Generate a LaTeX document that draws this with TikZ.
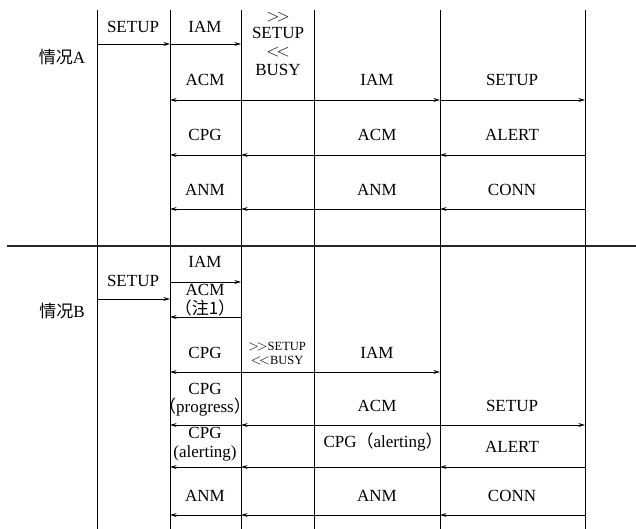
\documentclass[tikz,border=0pt]{standalone}
\usepackage{fontspec}
\setmainfont{Liberation Serif}
\newfontfamily\cjk{Noto Sans CJK SC}
\usetikzlibrary{arrows.meta}

\begin{document}
\begin{tikzpicture}[
    x=1pt,y=-1pt,
    every node/.style={font=\fontsize{17}{18}\selectfont, inner sep=0pt, text height=11.5pt, text depth=0pt},
    small/.style={font=\fontsize{12.5}{13}\selectfont, text height=8.5pt},
    big/.style={font=\fontsize{19}{19}\selectfont, text height=9pt},
    life/.style={draw=black, line width=0.8pt},
    msg/.style={draw=black, line width=0.8pt, -{Stealth[length=6.5pt,width=3.8pt]}},
    sep/.style={draw=black!85, line width=1.2pt}
]
    \useasboundingbox (0,0) rectangle (636,529);

    \foreach \n/\x in {p1/97,p2/170,p3/241,p4/314,p5/440,p6/585} {
        \coordinate (\n) at (\x,10);
        \coordinate (\n-end) at (\x,529);
        \draw[life] (\n) -- (\n-end);
    }
    \coordinate (sl) at (7,246);
    \coordinate (sr) at (636,246);
    \draw[sep] (sl) -- (sr);

    \foreach \n/\y in {ra1/44,ra2/100,ra3/155,ra4/209,rb1/282,rb2/299,rb3/317,rb4/372,rb5/425,rb6/467,rb7/515} {
        \coordinate (\n) at (0,\y);
    }

    \node (caseA) at (62,58) {{\cjk 情况}A};
    \node (caseB) at (62,312) {{\cjk 情况}B};

    \foreach \n/\x/\y/\lab in {a1/133/27/SETUP,a2/205/27/IAM,a3/278/33/SETUP,a4/278/70/BUSY,
        a5/205/80/ACM,a6/377/80/IAM,a7/512/80/SETUP,
        a8/205/135/CPG,a9/377/135/ACM,a10/512/135/ALERT,
        a11/205/190/ANM,a12/377/190/ANM,a13/512/190/CONN} {
        \node (\n) at (\x,\y) {\lab};
    }
    \node[big] (agt) at (278,17) {$>\!>$};
    \node[big] (alt) at (278,52) {$<\!<$};

    \foreach \n/\x/\y/\lab in {b1/205/262/IAM,b2/133/281/SETUP,b3/205/290/ACM,b4/205/309/{{\cjk （注1）}},
        b5/205/353/CPG,b6/377/353/IAM,
        b7/205/389/CPG,b8/205/407/{{\cjk （}progress{\cjk ）}},b9/377/406/ACM,b10/512/406/SETUP,
        b11/205/433/CPG,b12/205/452/{(alerting)},b13/383/442/{CPG{\cjk （}alerting{\cjk ）}},b14/512/447/ALERT,
        b15/205/496/ANM,b16/377/496/ANM,b17/512/496/CONN} {
        \node (\n) at (\x,\y) {\lab};
    }
    \node[small] (bgt) at (277,346) {{\Large$>\!>$}SETUP};
    \node[small] (blt) at (277,360) {{\Large$<\!<$}BUSY};

    \draw[msg] (p1 |- ra1) -- (p2 |- ra1);
    \draw[msg] (p2 |- ra1) -- (p3 |- ra1);
    \draw[msg] (p3 |- ra2) -- (p2 |- ra2);
    \draw[msg] (p3 |- ra2) -- (p5 |- ra2);
    \draw[msg] (p5 |- ra2) -- (p6 |- ra2);
    \foreach \r in {ra3,ra4} {
        \draw[msg] (p6 |- \r) -- (p5 |- \r);
        \draw[msg] (p5 |- \r) -- (p3 |- \r);
        \draw[msg] (p3 |- \r) -- (p2 |- \r);
    }

    \draw[msg] (p2 |- rb1) -- (p3 |- rb1);
    \draw[msg] (p1 |- rb2) -- (p2 |- rb2);
    \draw[msg] (p3 |- rb3) -- (p2 |- rb3);
    \draw[msg] (p3 |- rb4) -- (p2 |- rb4);
    \draw[msg] (p3 |- rb4) -- (p5 |- rb4);
    \draw[msg] (p3 |- rb5) -- (p2 |- rb5);
    \draw[msg] (p5 |- rb5) -- (p3 |- rb5);
    \draw[msg] (p5 |- rb5) -- (p6 |- rb5);
    \foreach \r in {rb6,rb7} {
        \draw[msg] (p6 |- \r) -- (p5 |- \r);
        \draw[msg] (p5 |- \r) -- (p3 |- \r);
        \draw[msg] (p3 |- \r) -- (p2 |- \r);
    }
\end{tikzpicture}
\end{document}
